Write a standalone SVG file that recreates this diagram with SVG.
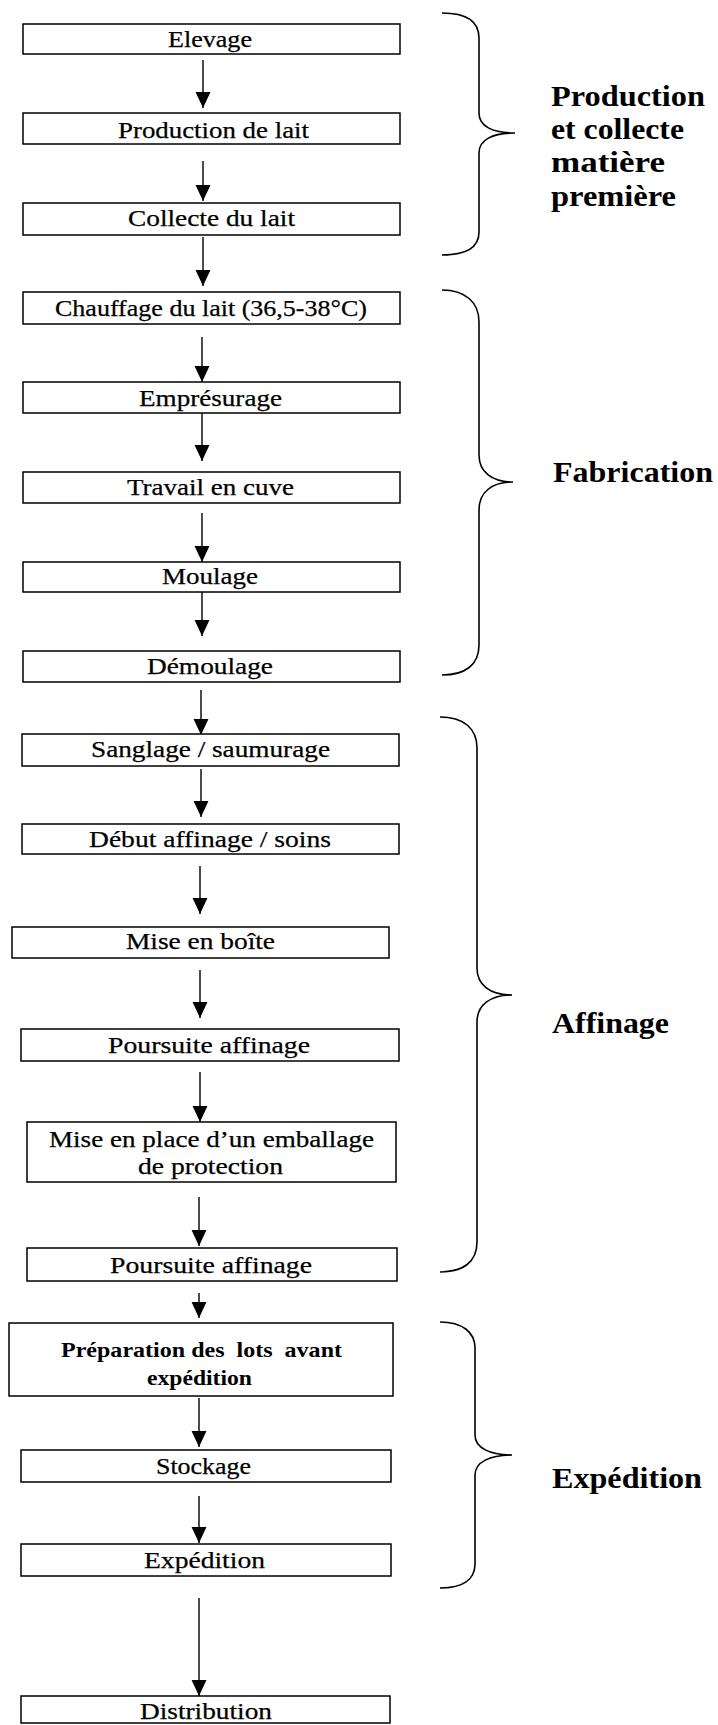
<svg xmlns="http://www.w3.org/2000/svg" width="718" height="1725" viewBox="0 0 718 1725">
<style>
.bg{fill:#ffffff}
.box{fill:#ffffff;stroke:#000;stroke-width:1.5}
.t{font-family:"Liberation Serif","Times New Roman",serif;font-size:24px;fill:#000;stroke:#000;stroke-width:0.25}
.tb{font-family:"Liberation Serif","Times New Roman",serif;font-size:22px;font-weight:bold;fill:#000}
.lab{font-family:"Liberation Serif","Times New Roman",serif;font-size:29px;font-weight:bold;fill:#000}
.conn{stroke:#000;stroke-width:1.4;fill:none}
.brace{stroke:#000;stroke-width:1.6;fill:none}
</style>
<defs>
<marker id="ah" markerUnits="userSpaceOnUse" markerWidth="16" markerHeight="16" viewBox="0 0 15 14" refX="15" refY="7" orient="auto">
<path d="M0,0 L15,7 L0,14 z" fill="#000"/>
</marker>
</defs>
<rect class="bg" x="0" y="0" width="718" height="1725"/>

<g id="connectors">
<line class="conn" x1="203" y1="60" x2="203" y2="108" marker-end="url(#ah)"/>
<line class="conn" x1="203" y1="161" x2="203" y2="201" marker-end="url(#ah)"/>
<line class="conn" x1="203" y1="237" x2="203" y2="286" marker-end="url(#ah)"/>
<line class="conn" x1="202" y1="337" x2="202" y2="382" marker-end="url(#ah)"/>
<line class="conn" x1="202" y1="413" x2="202" y2="461" marker-end="url(#ah)"/>
<line class="conn" x1="202" y1="513" x2="202" y2="562" marker-end="url(#ah)"/>
<line class="conn" x1="202" y1="592" x2="202" y2="636" marker-end="url(#ah)"/>
<line class="conn" x1="201" y1="690" x2="201" y2="735" marker-end="url(#ah)"/>
<line class="conn" x1="201" y1="769" x2="201" y2="817" marker-end="url(#ah)"/>
<line class="conn" x1="200" y1="866" x2="200" y2="914" marker-end="url(#ah)"/>
<line class="conn" x1="200" y1="970" x2="200" y2="1018" marker-end="url(#ah)"/>
<line class="conn" x1="200" y1="1072" x2="200" y2="1122" marker-end="url(#ah)"/>
<line class="conn" x1="199" y1="1197" x2="199" y2="1246" marker-end="url(#ah)"/>
<line class="conn" x1="199" y1="1293" x2="199" y2="1318" marker-end="url(#ah)"/>
<line class="conn" x1="199" y1="1398" x2="199" y2="1447" marker-end="url(#ah)"/>
<line class="conn" x1="199" y1="1496" x2="199" y2="1543" marker-end="url(#ah)"/>
<line class="conn" x1="199" y1="1598" x2="199" y2="1696" marker-end="url(#ah)"/>
</g>

<g id="n-elevage"><rect class="box" x="23" y="24" width="377" height="30"/><text class="t" x="168" y="47" textLength="84" lengthAdjust="spacingAndGlyphs">Elevage</text></g>
<g id="n-production"><rect class="box" x="23" y="113" width="377" height="31"/><text class="t" x="118" y="138" textLength="191" lengthAdjust="spacingAndGlyphs">Production de lait</text></g>
<g id="n-collecte"><rect class="box" x="23" y="203" width="377" height="32"/><text class="t" x="128" y="226" textLength="167" lengthAdjust="spacingAndGlyphs">Collecte du lait</text></g>
<g id="n-chauffage"><rect class="box" x="23" y="292" width="377" height="32"/><text class="t" x="55" y="316" textLength="312" lengthAdjust="spacingAndGlyphs">Chauffage du lait (36,5-38°C)</text></g>
<g id="n-empresurage"><rect class="box" x="23" y="382" width="377" height="31"/><text class="t" x="139" y="406" textLength="143" lengthAdjust="spacingAndGlyphs">Emprésurage</text></g>
<g id="n-travail"><rect class="box" x="23" y="472" width="377" height="31"/><text class="t" x="127" y="495" textLength="167" lengthAdjust="spacingAndGlyphs">Travail en cuve</text></g>
<g id="n-moulage"><rect class="box" x="23" y="562" width="377" height="30"/><text class="t" x="162" y="584" textLength="96" lengthAdjust="spacingAndGlyphs">Moulage</text></g>
<g id="n-demoulage"><rect class="box" x="23" y="651" width="377" height="31"/><text class="t" x="147" y="674" textLength="126" lengthAdjust="spacingAndGlyphs">Démoulage</text></g>
<g id="n-sanglage"><rect class="box" x="22" y="734" width="377" height="32"/><text class="t" x="91" y="757" textLength="239" lengthAdjust="spacingAndGlyphs">Sanglage / saumurage</text></g>
<g id="n-debut"><rect class="box" x="22" y="824" width="377" height="30"/><text class="t" x="89" y="847" textLength="242" lengthAdjust="spacingAndGlyphs">Début affinage / soins</text></g>
<g id="n-boite"><rect class="box" x="12" y="927" width="377" height="31"/><text class="t" x="126" y="949" textLength="149" lengthAdjust="spacingAndGlyphs">Mise en boîte</text></g>
<g id="n-poursuite1"><rect class="box" x="21" y="1029" width="378" height="32"/><text class="t" x="108" y="1053" textLength="202" lengthAdjust="spacingAndGlyphs">Poursuite affinage</text></g>
<g id="n-emballage"><rect class="box" x="27" y="1122" width="369" height="60"/><text class="t" x="49" y="1147" textLength="325" lengthAdjust="spacingAndGlyphs">Mise en place d’un emballage</text><text class="t" x="138" y="1174" textLength="145" lengthAdjust="spacingAndGlyphs">de protection</text></g>
<g id="n-poursuite2"><rect class="box" x="27" y="1248" width="370" height="33"/><text class="t" x="110" y="1273" textLength="202" lengthAdjust="spacingAndGlyphs">Poursuite affinage</text></g>
<g id="n-preparation"><rect class="box" x="9" y="1323" width="384" height="73"/><text class="tb" x="61" y="1357" textLength="281" lengthAdjust="spacingAndGlyphs" xml:space="preserve">Préparation des  lots  avant</text><text class="tb" x="147" y="1385" textLength="105" lengthAdjust="spacingAndGlyphs">expédition</text></g>
<g id="n-stockage"><rect class="box" x="21" y="1450" width="370" height="32"/><text class="t" x="156" y="1474" textLength="95" lengthAdjust="spacingAndGlyphs">Stockage</text></g>
<g id="n-expedition"><rect class="box" x="21" y="1544" width="370" height="32"/><text class="t" x="144" y="1568" textLength="121" lengthAdjust="spacingAndGlyphs">Expédition</text></g>
<g id="n-distribution"><rect class="box" x="21" y="1696" width="369" height="27"/><text class="t" x="140" y="1719" textLength="132" lengthAdjust="spacingAndGlyphs">Distribution</text></g>

<g id="g-production">
<path class="brace" d="M442,13 C465,13 479,20 479,38 L479,113 C479,126 492,133 515,133 C492,133 479,140 479,153 L479,232 C479,248 465,255 442,255"/>
<text class="lab" x="551" y="106" textLength="154" lengthAdjust="spacingAndGlyphs">Production</text>
<text class="lab" x="551" y="139" textLength="133" lengthAdjust="spacingAndGlyphs">et collecte</text>
<text class="lab" x="551" y="172" textLength="114" lengthAdjust="spacingAndGlyphs">matière</text>
<text class="lab" x="551" y="206" textLength="125" lengthAdjust="spacingAndGlyphs">première</text>
</g>
<g id="g-fabrication">
<path class="brace" d="M442,290 C465,290 479,302 479,322 L479,455 C479,472 492,482 513,482 C492,482 479,492 479,510 L479,645 C479,665 465,675 442,675"/>
<text class="lab" x="553" y="482" textLength="160" lengthAdjust="spacingAndGlyphs">Fabrication</text>
</g>
<g id="g-affinage">
<path class="brace" d="M440,717 C463,717 477,728 477,748 L477,968 C477,985 490,995 512,995 C490,995 477,1005 477,1022 L477,1242 C477,1262 463,1272 440,1272"/>
<text class="lab" x="552" y="1033" textLength="117" lengthAdjust="spacingAndGlyphs">Affinage</text>
</g>
<g id="g-expedition">
<path class="brace" d="M440,1322 C462,1322 475,1332 475,1348 L475,1435 C475,1448 490,1455 512,1455 C490,1455 475,1462 475,1475 L475,1564 C475,1580 462,1588 440,1588"/>
<text class="lab" x="552" y="1488" textLength="150" lengthAdjust="spacingAndGlyphs">Expédition</text>
</g>
</svg>
